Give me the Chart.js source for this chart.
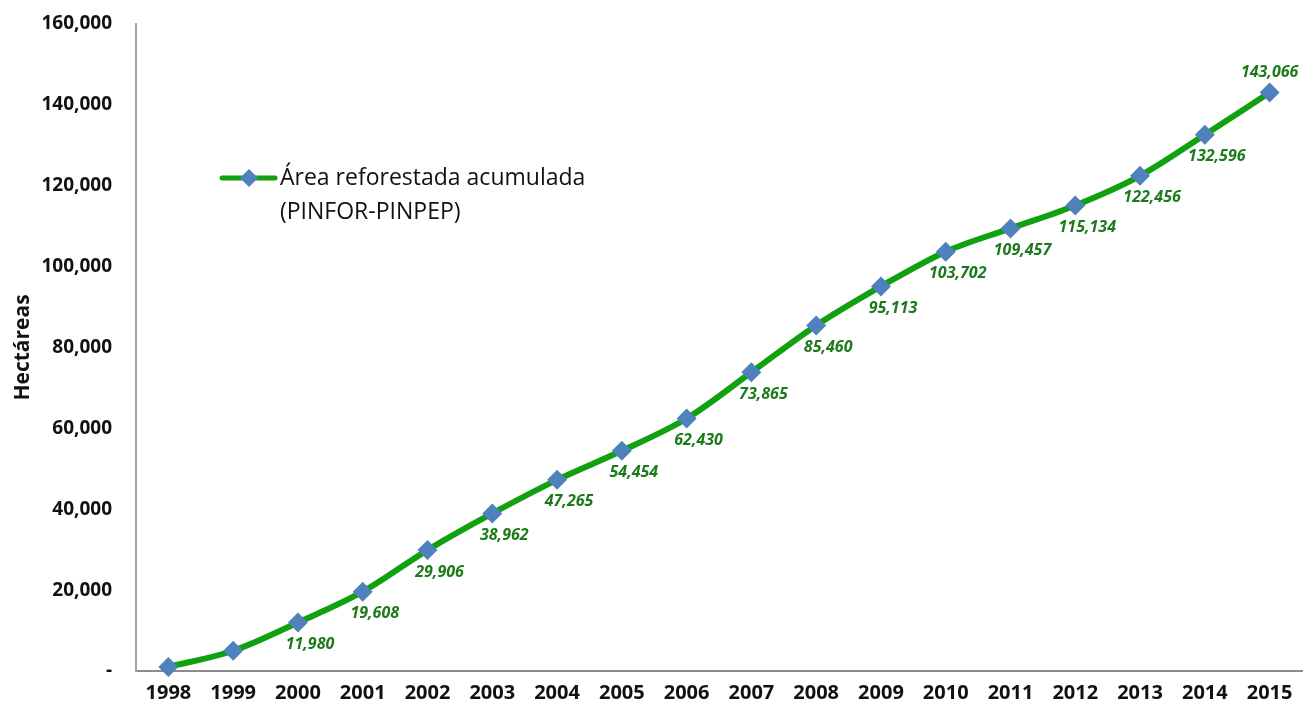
<!DOCTYPE html>
<html><head><meta charset="utf-8">
<script src="https://cdn.jsdelivr.net/npm/chart.js@4/dist/chart.umd.min.js"></script>
<style>html,body{margin:0;padding:0;background:#fff;overflow:hidden}#wrap{width:1304px;height:718px}canvas{display:block}</style>
</head><body><div id="wrap"><canvas id="c"></canvas></div>
<script>
const years = ['1998','1999','2000','2001','2002','2003','2004','2005','2006','2007','2008','2009','2010','2011','2012','2013','2014','2015'];
const area = [1000,5000,11980,19608,29906,38962,47265,54454,62430,73865,85460,95113,103702,109457,115134,122456,132596,143066];
const labelShown = [false,false,true,true,true,true,true,true,true,true,true,true,true,true,true,true,true,true];
const yTicks = [0,20000,40000,60000,80000,100000,120000,140000,160000];
const seriesName = ['Área reforestada acumulada','(PINFOR-PINPEP)'];
const FONT = "'Open Sans', 'Liberation Sans', sans-serif";

const fmt = v => v === 0 ? '-' : v.toLocaleString('en-US');

const labelPlugin = {
  id:'labels',
  afterDatasetsDraw(chart){
    const ctx = chart.ctx;
    const meta = chart.getDatasetMeta(0);
    ctx.save();
    ctx.font = "italic bold 16px " + FONT;
    ctx.fillStyle = '#1d7a1a';
    ctx.textAlign = 'center';
    ctx.textBaseline = 'middle';
    meta.data.forEach((pt,i)=>{
      if(!labelShown[i]) return;
      const last = i === area.length-1;
      const dx = last ? 0 : 12;
      const dy = last ? -20 : 22;
      ctx.fillText(fmt(area[i]), pt.x+dx, pt.y+dy);
    });
    // legend
    const lx = 222, ly = 178;
    ctx.strokeStyle = '#10a010'; ctx.lineWidth = 5; ctx.lineCap='round';
    ctx.beginPath(); ctx.moveTo(lx, ly); ctx.lineTo(lx+53, ly); ctx.stroke();
    ctx.fillStyle = '#4f81bd';
    ctx.beginPath(); ctx.moveTo(lx+27, ly-9); ctx.lineTo(lx+36, ly); ctx.lineTo(lx+27, ly+9); ctx.lineTo(lx+18, ly); ctx.closePath(); ctx.fill();
    ctx.fillStyle = '#111';
    ctx.font = "23px " + FONT;
    ctx.textAlign = 'left';
    ctx.fillText(seriesName[0], lx+58, ly);
    ctx.fillText(seriesName[1], lx+58, ly+34);
    ctx.restore();
  }
};

new Chart(document.getElementById('c'), {
  type:'line',
  data:{labels:years, datasets:[{
    data:area,
    borderColor:'#10a010',
    borderWidth:6,
    tension:0.35,
    cubicInterpolationMode:'monotone',
    pointStyle:'rectRot',
    pointRadius:10,
    pointHoverRadius:10,
    pointBackgroundColor:'#4f81bd',
    pointBorderColor:'#4f81bd',
    pointBorderWidth:0,
    clip:false
  }]},
  options:{
    responsive:true, maintainAspectRatio:false, animation:false,
    layout:{autoPadding:false, padding:{top:24,right:2,left:0,bottom:0}},
    plugins:{legend:{display:false}, tooltip:{enabled:false}},
    scales:{
      x:{
        offset:true,
        grid:{display:false, drawTicks:false},
        border:{display:true, color:'#8c8c8c', width:2},
        ticks:{color:'#111', font:{family:FONT, size:20, weight:'bold'}, padding:10},
        afterFit(s){ s.height = 47; s.paddingLeft = 0; s.paddingRight = 0; }
      },
      y:{
        min:0, max:160000,
        grid:{display:false, drawTicks:false},
        border:{display:true, color:'#a6a6a6', width:2},
        afterBuildTicks(s){ s.ticks = yTicks.map(v=>({value:v})); },
        ticks:{color:'#111', font:{family:FONT, size:19, weight:'bold'}, padding:24, callback:v=>fmt(v)},
        title:{display:true, text:'Hectáreas', color:'#111', font:{family:FONT, size:21, weight:'bold'}, padding:{top:10,bottom:0}},
        afterFit(s){ s.width = 136; s.paddingTop = 0; s.paddingBottom = 0; }
      }
    }
  },
  plugins:[labelPlugin]
});
</script></body></html>
